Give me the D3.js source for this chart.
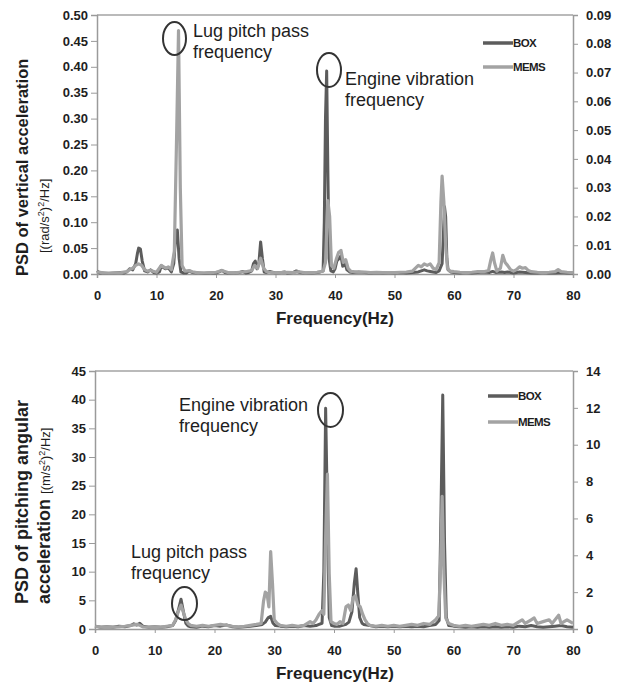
<!DOCTYPE html>
<html><head><meta charset="utf-8">
<script src="https://cdn.jsdelivr.net/npm/d3@7"></script>
<style>body{margin:0;background:#fff}svg{display:block}text{font-family:"Liberation Sans",Arial,sans-serif}</style>
</head><body><svg id="c" width="625" height="689"></svg>
<script>
// ---------- DATA ----------
const xTicks = [0,10,20,30,40,50,60,70,80];
const topLeftTicks = [0,0.05,0.10,0.15,0.20,0.25,0.30,0.35,0.40,0.45,0.50];
const topRightTicks = [0,0.01,0.02,0.03,0.04,0.05,0.06,0.07,0.08,0.09];
const botLeftTicks = [0,5,10,15,20,25,30,35,40,45];
const botRightTicks = [0,2,4,6,8,10,12,14];
const seriesNames = ["BOX","MEMS"];

// top chart: BOX on left axis, [frequency Hz, PSD]
const topBox = [[0,0.006],[0.5,0.002],[1,0.002],[2,0.001],[3,0.002],[4,0.003],[4.5,0.002],[5,0.004],[5.5,0.01],[6,0.008],[6.5,0.02],[6.8,0.04],[7,0.05],[7.3,0.048],[7.6,0.025],[8,0.006],[8.5,0.004],[9,0.008],[9.5,0.003],[10,0.002],[10.5,0.004],[10.8,0.016],[11.2,0.012],[11.5,0.01],[12,0.012],[12.5,0.004],[12.9,0.02],[13.2,0.07],[13.5,0.085],[13.8,0.03],[14.1,0.004],[14.5,0.002],[15,0.002],[15.5,0.006],[16,0.003],[17,0.002],[18,0.001],[19,0.002],[20,0.002],[20.5,0.004],[21,0.007],[21.5,0.003],[22,0.002],[23,0.002],[24,0.003],[24.5,0.005],[25,0.002],[25.5,0.003],[26,0.006],[26.3,0.02],[26.6,0.025],[26.9,0.01],[27.2,0.02],[27.5,0.062],[27.8,0.03],[28.1,0.004],[28.5,0.003],[29,0.005],[30,0.002],[31,0.003],[31.5,0.004],[32,0.002],[33,0.003],[33.5,0.006],[34,0.003],[35,0.002],[36,0.002],[37,0.003],[37.5,0.004],[38,0.006],[38.2,0.1],[38.4,0.3],[38.6,0.392],[38.8,0.2],[39,0.03],[39.3,0.006],[39.7,0.004],[40,0.01],[40.3,0.025],[40.7,0.03],[41,0.035],[41.3,0.015],[41.7,0.02],[42,0.008],[42.5,0.004],[43,0.003],[44,0.004],[45,0.003],[46,0.002],[47,0.003],[48,0.002],[49,0.002],[50,0.002],[51,0.003],[52,0.002],[53,0.003],[54,0.004],[54.5,0.006],[55,0.008],[55.5,0.006],[56,0.005],[56.5,0.004],[57,0.003],[57.5,0.006],[58,0.02],[58.2,0.07],[58.4,0.13],[58.6,0.11],[58.8,0.03],[59,0.008],[59.5,0.004],[60,0.003],[61,0.002],[62,0.003],[63,0.002],[64,0.003],[65,0.004],[66,0.003],[66.5,0.005],[67,0.003],[68,0.004],[68.5,0.003],[69,0.004],[70,0.002],[71,0.004],[72,0.003],[73,0.002],[74,0.002],[75,0.003],[76,0.002],[77,0.002],[78,0.003],[79,0.002],[80,0.002]];
// top chart: MEMS on right axis
const topMems = [[0,0.0008],[1,0.0004],[2,0.0003],[3,0.0004],[4,0.0005],[5,0.0008],[5.5,0.0015],[6,0.002],[6.5,0.003],[7,0.0035],[7.5,0.003],[8,0.0015],[8.5,0.001],[9,0.0012],[10,0.0006],[10.8,0.003],[11.2,0.0025],[11.6,0.002],[12,0.0025],[12.5,0.0015],[13,0.008],[13.4,0.05],[13.7,0.0846],[14,0.03],[14.3,0.003],[14.8,0.001],[15.5,0.0012],[16,0.0008],[17,0.0004],[18,0.0004],[19,0.0005],[20,0.0006],[21,0.0012],[22,0.0005],[23,0.0004],[24,0.0006],[25,0.0008],[26,0.0012],[26.5,0.003],[27,0.002],[27.5,0.0055],[28,0.002],[28.5,0.0008],[29,0.0006],[30,0.0004],[31,0.0005],[32,0.0006],[33,0.0005],[34,0.0008],[35,0.0004],[36,0.0005],[37,0.0006],[38,0.001],[38.4,0.004],[38.8,0.0255],[39.1,0.02],[39.4,0.003],[39.8,0.002],[40.2,0.005],[40.6,0.0075],[41,0.0082],[41.4,0.004],[41.8,0.005],[42.2,0.002],[42.6,0.001],[43,0.0008],[44,0.0006],[45,0.0007],[46,0.0005],[47,0.0006],[48,0.0005],[49,0.0004],[50,0.0005],[51,0.0006],[52,0.0007],[53,0.001],[54,0.003],[54.5,0.0025],[55,0.0035],[55.5,0.003],[56,0.0035],[56.5,0.002],[57,0.0015],[57.5,0.004],[57.8,0.025],[58,0.034],[58.3,0.025],[58.6,0.01],[58.9,0.002],[59.3,0.001],[60,0.0008],[61,0.0006],[62,0.0005],[63,0.0006],[64,0.0008],[65,0.0008],[65.8,0.0012],[66.2,0.005],[66.5,0.0073],[66.8,0.004],[67.2,0.001],[67.8,0.002],[68.2,0.0065],[68.6,0.004],[69,0.003],[69.5,0.0015],[70,0.001],[70.5,0.0015],[71,0.0025],[71.5,0.002],[72,0.0022],[72.5,0.0012],[73,0.0008],[74,0.0006],[75,0.0005],[76,0.0006],[77,0.0008],[77.5,0.0015],[78,0.0008],[79,0.0006],[80,0.0005]];
// bottom chart: BOX on left axis
const botBox = [[0,0.5],[1,0.3],[2,0.4],[3,0.3],[4,0.5],[5,0.4],[6,0.6],[6.5,0.9],[7,0.7],[7.5,1.0],[8,0.5],[9,0.3],[10,0.4],[11,0.3],[12,0.4],[13,0.6],[13.5,1.5],[14,3.5],[14.4,5.2],[14.8,3.0],[15.2,1.0],[15.6,0.5],[16,0.4],[17,0.3],[18,0.5],[19,0.4],[20,0.6],[21,0.5],[22,0.7],[23,0.4],[24,0.3],[25,0.4],[26,0.5],[27,0.6],[28,0.8],[28.5,1.2],[29,2.0],[29.4,2.2],[29.8,1.0],[30.2,0.6],[31,0.5],[32,0.4],[33,0.5],[34,0.4],[35,0.6],[36,0.5],[37,0.6],[37.5,0.8],[38,1.0],[38.3,10],[38.6,38.5],[38.9,20],[39.2,2],[39.6,0.6],[40,0.5],[41,0.5],[42,0.8],[42.5,1.2],[43,3],[43.4,8],[43.7,10.5],[44,6],[44.3,2],[44.7,1.0],[45,0.8],[46,0.6],[47,0.4],[48,0.5],[49,0.4],[50,0.5],[51,0.4],[52,0.5],[53,0.4],[54,0.5],[55,0.4],[56,0.6],[57,0.8],[57.6,1.5],[57.9,20],[58.2,40.8],[58.5,15],[58.8,2],[59.2,0.6],[60,0.5],[61,0.4],[62,0.3],[63,0.4],[64,0.3],[65,0.4],[66,0.3],[67,0.4],[68,0.3],[69,0.4],[70,0.3],[71,0.5],[72,0.4],[73,0.6],[74,0.4],[75,0.3],[76,0.4],[77,0.5],[78,0.6],[79,0.4],[80,0.3]];
// bottom chart: MEMS on right axis
const botMems = [[0,0.15],[1,0.1],[2,0.12],[3,0.1],[4,0.12],[5,0.15],[6,0.2],[7,0.25],[7.5,0.2],[8,0.12],[9,0.1],[10,0.12],[11,0.1],[12,0.15],[13,0.2],[13.5,0.5],[14,1.0],[14.4,1.3],[14.8,0.9],[15.2,0.5],[15.6,0.3],[16,0.2],[17,0.15],[18,0.2],[19,0.15],[20,0.2],[21,0.25],[22,0.2],[23,0.15],[24,0.12],[25,0.15],[26,0.2],[27,0.25],[27.8,0.3],[28.2,1.5],[28.5,2.0],[28.8,1.9],[29.1,1.2],[29.4,4.2],[29.7,2.5],[30,0.5],[30.5,0.3],[31,0.2],[32,0.15],[33,0.2],[34,0.15],[35,0.2],[36,0.4],[36.5,0.3],[37,0.5],[37.5,0.8],[38,1.0],[38.3,0.8],[38.6,5],[38.9,8.4],[39.2,3],[39.5,0.4],[40,0.3],[40.5,0.25],[41,0.4],[41.5,0.3],[42,1.2],[42.4,1.3],[42.8,1.0],[43.2,1.7],[43.6,1.8],[44,1.3],[44.4,1.2],[44.8,0.8],[45.2,0.5],[45.6,0.3],[46,0.2],[47,0.15],[48,0.2],[49,0.15],[50,0.2],[51,0.15],[52,0.2],[53,0.25],[54,0.2],[55,0.3],[56,0.25],[57,0.5],[57.5,0.7],[57.8,3],[58.1,7.2],[58.4,3],[58.7,0.6],[59.2,0.3],[60,0.2],[61,0.15],[62,0.2],[63,0.15],[64,0.2],[65,0.25],[66,0.2],[67,0.3],[68,0.2],[69,0.25],[70,0.2],[71,0.4],[71.5,0.5],[72,0.3],[73,0.5],[73.5,0.6],[74,0.3],[75,0.4],[76,0.5],[76.5,0.3],[77,0.5],[77.6,0.75],[78,0.3],[79,0.5],[79.5,0.4],[80,0.3]];

// ---------- DRAW ----------
const svg = d3.select("#c");
const COL = {BOX:"#5c5c5c", MEMS:"#a3a3a3", axis:"#9a9a9a", text:"#1e1e1e"};

function panel(cfg){
  const g = svg.append("g");
  const x = d3.scaleLinear().domain([0,80]).range([cfg.x0,cfg.x1]);
  const yL = d3.scaleLinear().domain([0,cfg.lMax]).range([cfg.yb,cfg.yt]);
  const yR = d3.scaleLinear().domain([0,cfg.rMax]).range([cfg.yb,cfg.yt]);
  g.append("line").attr("x1",cfg.x0).attr("x2",cfg.x1).attr("y1",cfg.yt).attr("y2",cfg.yt).attr("stroke","#777").attr("stroke-width",1.2);
  const ax = g.append("g").attr("transform",`translate(0,${cfg.yb})`).call(d3.axisBottom(x).tickValues(xTicks).tickSize(4).tickPadding(13).tickFormat(d3.format("d")));
  const al = g.append("g").attr("transform",`translate(${cfg.x0},0)`).call(d3.axisLeft(yL).tickValues(cfg.lTicks).tickSize(6).tickPadding(3).tickFormat(cfg.lFmt));
  const ar = g.append("g").attr("transform",`translate(${cfg.x1},0)`).call(d3.axisRight(yR).tickValues(cfg.rTicks).tickSize(5).tickPadding(8).tickFormat(cfg.rFmt));
  [ax,al,ar].forEach(a=>{
    a.select(".domain").attr("stroke",COL.axis).attr("stroke-width",1.5);
    a.selectAll(".tick line").attr("stroke",COL.axis);
    a.selectAll(".tick text").attr("fill",COL.text).attr("font-size",13).attr("font-weight","bold");
  });
  const line = ys => d3.line().x(d=>x(d[0])).y(d=>ys(d[1]));
  g.append("path").datum(cfg.box).attr("d",line(yL)).attr("fill","none").attr("stroke",COL.BOX).attr("stroke-width",3).attr("stroke-linejoin","round");
  g.append("path").datum(cfg.mems).attr("d",line(yR)).attr("fill","none").attr("stroke",COL.MEMS).attr("stroke-width",3.2).attr("stroke-linejoin","round");
  g.append("text").attr("x",335).attr("y",cfg.yb+50).attr("text-anchor","middle").attr("font-size",17).attr("font-weight","bold").attr("fill",COL.text).text("Frequency(Hz)");
  seriesNames.forEach((n,i)=>{
    const ly = cfg.legY + i*cfg.legGap;
    g.append("line").attr("x1",cfg.legX).attr("x2",cfg.legX+30).attr("y1",ly).attr("y2",ly).attr("stroke",COL[n]).attr("stroke-width",3.5);
    g.append("text").attr("x",cfg.legX+30).attr("y",ly+4).attr("font-size",11.5).attr("font-weight","bold").attr("letter-spacing","-0.6").attr("fill",COL.text).text(n);
  });
  cfg.notes.forEach(nt=>{
    g.append("ellipse").attr("cx",nt.cx).attr("cy",nt.cy).attr("rx",nt.rx).attr("ry",nt.ry).attr("fill","none").attr("stroke","#333").attr("stroke-width",2);
    const t = g.append("text").attr("x",nt.tx).attr("y",nt.ty).attr("font-size",18).attr("fill","#1e1e1e");
    nt.lines.forEach((s,i)=>t.append("tspan").attr("x",nt.tx).attr("dy",i?21:0).text(s));
  });
  cfg.yTitle(g);
  return {x,yL,yR};
}

panel({x0:97,x1:573,yt:15,yb:274,lMax:0.5,rMax:0.09,lTicks:topLeftTicks,rTicks:topRightTicks,
  lFmt:d3.format(".2f"),rFmt:d3.format(".2f"),box:topBox,mems:topMems,legX:483,legY:43,legGap:24,
  notes:[{cx:174.5,cy:38.5,rx:11.5,ry:16.5,tx:193,ty:37,lines:["Lug pitch pass","frequency"]},
         {cx:329,cy:70,rx:12,ry:17,tx:345,ty:85,lines:["Engine vibration","frequency"]}],
  yTitle:g=>{
    g.append("text").attr("transform","translate(28,276) rotate(-90)").attr("font-size",16.5).attr("font-weight","bold").attr("fill",COL.text).text("PSD of vertical acceleration");
    g.append("text").attr("transform","translate(49,253) rotate(-90)").attr("font-size",13).attr("fill",COL.text).html("[(rad/s<tspan dy='-5' font-size='9'>2</tspan><tspan dy='5'>)</tspan><tspan dy='-5' font-size='9'>2</tspan><tspan dy='5'>/Hz]</tspan>");
  }
});

panel({x0:95,x1:573,yt:371,yb:629,lMax:45,rMax:14,lTicks:botLeftTicks,rTicks:botRightTicks,
  lFmt:d3.format("d"),rFmt:d3.format("d"),box:botBox,mems:botMems,legX:488,legY:396,legGap:26,
  notes:[{cx:330.5,cy:410,rx:12.5,ry:17,tx:179,ty:411,lines:["Engine vibration","frequency"]},
         {cx:184.5,cy:603.5,rx:12.5,ry:16.5,tx:131,ty:558,lines:["Lug pitch pass","frequency"]}],
  yTitle:g=>{
    g.append("text").attr("transform","translate(28,604) rotate(-90)").attr("font-size",18).attr("font-weight","bold").attr("fill",COL.text).text("PSD of pitching angular");
    const t = g.append("text").attr("transform","translate(50,604) rotate(-90)").attr("fill",COL.text);
    t.append("tspan").attr("font-size",18).attr("font-weight","bold").text("acceleration ");
    t.append("tspan").attr("font-size",13).html("[(m/s<tspan dy='-5' font-size='9'>2</tspan><tspan dy='5'>)</tspan><tspan dy='-5' font-size='9'>2</tspan><tspan dy='5'>/Hz]</tspan>");
  }
});
</script></body></html>
